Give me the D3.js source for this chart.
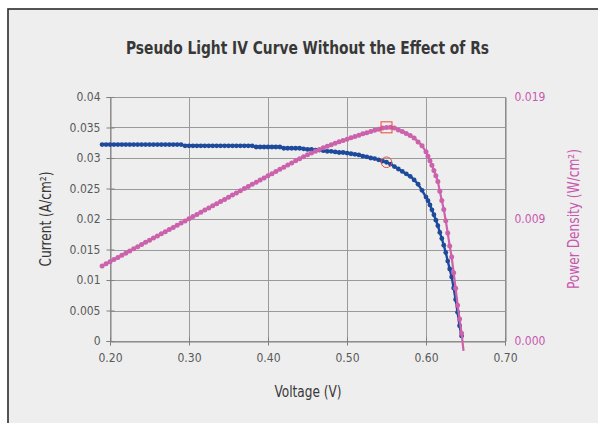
<!DOCTYPE html>
<html>
<head>
<meta charset="utf-8">
<script src="https://cdn.jsdelivr.net/npm/d3@7"></script>
<style>
  html, body { margin: 0; padding: 0; background: #ffffff; }
  svg { display: block; }
  text { font-family: "Liberation Sans Narrow", "DejaVu Sans Condensed", "Roboto", sans-serif; }
</style>
</head>
<body>
<svg id="chart" width="598" height="423"></svg>
<script>
const chartTitle = "Pseudo Light IV Curve Without the Effect of Rs";
const xTitle = "Voltage (V)";
const yTitle = "Current (A/cm\u00B2)";
const y2Title = "Power Density (W/cm\u00B2)";

const xTicks = [0.2, 0.3, 0.4, 0.5, 0.6, 0.7];
const xTickLabels = ["0.20", "0.30", "0.40", "0.50", "0.60", "0.70"];
const yTicks = [0, 0.005, 0.01, 0.015, 0.02, 0.025, 0.03, 0.035, 0.04];
const yTickLabels = ["0", "0.005", "0.01", "0.015", "0.02", "0.025", "0.03", "0.035", "0.04"];
const y2Ticks = [0, 0.009375, 0.01875];
const y2TickLabels = ["0.000", "0.009", "0.019"];

const voltage = [
  0.190, 0.195, 0.200, 0.205, 0.210, 0.215, 0.220, 0.225, 0.230, 0.235,
  0.240, 0.245, 0.250, 0.255, 0.260, 0.265, 0.270, 0.275, 0.280, 0.285,
  0.290, 0.295, 0.300, 0.305, 0.310, 0.315, 0.320, 0.325, 0.330, 0.335,
  0.340, 0.345, 0.350, 0.355, 0.360, 0.365, 0.370, 0.375, 0.380, 0.385,
  0.390, 0.395, 0.400, 0.405, 0.410, 0.415, 0.420, 0.425, 0.430, 0.435,
  0.440, 0.445, 0.450, 0.455, 0.460, 0.465, 0.470, 0.475, 0.480, 0.485,
  0.490, 0.495, 0.500, 0.505, 0.510, 0.515, 0.520, 0.525, 0.530, 0.535,
  0.540, 0.545, 0.550, 0.555, 0.560, 0.565, 0.570, 0.575, 0.580, 0.585,
  0.590, 0.595, 0.600, 0.6025, 0.605, 0.6075, 0.610, 0.6125, 0.615, 0.6175,
  0.620, 0.6225, 0.625, 0.6275, 0.630, 0.6325, 0.635, 0.6375, 0.640, 0.6425,
  0.645, 0.6475
];

const current = [
  0.0322, 0.0322, 0.0322, 0.0322, 0.0322, 0.0322, 0.0322, 0.0322, 0.0322, 0.0322,
  0.0322, 0.0322, 0.0322, 0.0322, 0.0322, 0.0322, 0.0322, 0.0322, 0.0322, 0.0322,
  0.0322, 0.0320, 0.0320, 0.0320, 0.0320, 0.0320, 0.0320, 0.0320, 0.0320, 0.0320,
  0.0320, 0.0320, 0.0320, 0.0320, 0.0320, 0.0320, 0.0320, 0.0320, 0.0320, 0.0318,
  0.0318, 0.0318, 0.0318, 0.0318, 0.0318, 0.0318, 0.0316, 0.0316, 0.0316, 0.0316,
  0.0316, 0.0315, 0.0314, 0.0314, 0.0313, 0.0313, 0.0312, 0.0311, 0.0311, 0.0310,
  0.0309, 0.0309, 0.0308, 0.0307, 0.0306, 0.0305, 0.0303, 0.0302, 0.0300, 0.0299,
  0.0297, 0.0295, 0.0293, 0.0290, 0.0286, 0.0282, 0.0278, 0.0274, 0.0270, 0.0264,
  0.0257, 0.0247, 0.0236, 0.0230, 0.0223, 0.0215, 0.0207, 0.0198, 0.0189, 0.0178,
  0.0168, 0.0157, 0.0145, 0.0131, 0.0118, 0.0105, 0.0087, 0.0068, 0.0047, 0.0025,
  0.0008
];

const power = [
  0.00576, 0.00593, 0.00609, 0.00626, 0.00642, 0.00659, 0.00675, 0.00692, 0.00708, 0.00725,
  0.00741, 0.00758, 0.00774, 0.00791, 0.00807, 0.00824, 0.00840, 0.00857, 0.00873, 0.00890,
  0.00907, 0.00923, 0.00940, 0.00956, 0.00973, 0.00989, 0.01006, 0.01022, 0.01039, 0.01055,
  0.01072, 0.01088, 0.01105, 0.01121, 0.01138, 0.01154, 0.01171, 0.01187, 0.01204, 0.01220,
  0.01237, 0.01253, 0.01270, 0.01286, 0.01303, 0.01319, 0.01336, 0.01352, 0.01368, 0.01385,
  0.01401, 0.01416, 0.01431, 0.01445, 0.01459, 0.01472, 0.01485, 0.01497, 0.01509, 0.01520,
  0.01531, 0.01541, 0.01550, 0.01561, 0.01571, 0.01582, 0.01592, 0.01601, 0.01610, 0.01619,
  0.01628, 0.01636, 0.01641, 0.01642, 0.01636, 0.01622, 0.01610, 0.01595, 0.01580, 0.01560,
  0.01530, 0.01500, 0.01455, 0.01420, 0.01385, 0.01350, 0.01310, 0.01270, 0.01225, 0.01150,
  0.01080, 0.01010, 0.00925, 0.00830, 0.00730, 0.00645, 0.00525, 0.00405, 0.00275, 0.00170,
  0.00060, -0.00075
];

const mppVoltage = [0.55];
const mppCurrent = [0.0293];
const mppPower = [0.01642];

const blue = "#1d4a9b";
const pink = "#cb62ab";
const pinkText = "#c957ae";
const grey = "#595959";
const dark = "#383838";

const svg = d3.select("#chart");

svg.append("rect")
  .attr("x", 8).attr("y", 9).attr("width", 620).attr("height", 440)
  .attr("fill", "#eeeeee").attr("stroke", "#2b2b2b").attr("stroke-width", 1.6);

const x = d3.scaleLinear().domain([0.2, 0.7]).range([110, 505]);
const y = d3.scaleLinear().domain([0, 0.04]).range([341, 97]);
const y2 = d3.scaleLinear().domain([0, 0.01875]).range([341, 97]);

// gridlines
const grid = svg.append("g").attr("stroke", "#9a9a9a").attr("stroke-width", 1);
grid.selectAll(".hg").data(yTicks).join("line")
  .attr("x1", x(0.2)).attr("x2", x(0.7))
  .attr("y1", d => Math.round(y(d)) + 0.5).attr("y2", d => Math.round(y(d)) + 0.5);
grid.selectAll(".vg").data(xTicks).join("line")
  .attr("y1", y(0)).attr("y2", y(0.04))
  .attr("x1", d => Math.round(x(d)) + 0.5).attr("x2", d => Math.round(x(d)) + 0.5);

// axes
const axisColor = "#808080";
const yAxis = svg.append("g").attr("transform", `translate(${Math.round(x(0.2)) + 0.5},0)`)
  .call(d3.axisLeft(y).tickValues(yTicks).tickFormat((d, i) => yTickLabels[i]).tickSizeOuter(0).tickSize(4).tickPadding(6));
yAxis.selectAll("line").attr("x2", -4).attr("x1", 4).attr("stroke", axisColor);
yAxis.select(".domain").attr("stroke", axisColor);
yAxis.selectAll("text").attr("fill", grey).attr("font-size", 12).attr("x", -10);

const xAxis = svg.append("g").attr("transform", `translate(0,${Math.round(y(0)) + 0.5})`)
  .call(d3.axisBottom(x).tickValues(xTicks).tickFormat((d, i) => xTickLabels[i]).tickSizeOuter(0).tickSize(4).tickPadding(8));
xAxis.selectAll("line").attr("y1", -4).attr("y2", 4).attr("stroke", axisColor);
xAxis.select(".domain").attr("stroke", axisColor);
xAxis.selectAll("text").attr("fill", grey).attr("font-size", 12);

const y2Axis = svg.append("g").attr("transform", `translate(${Math.round(x(0.7)) + 0.5},0)`)
  .call(d3.axisRight(y2).tickValues(y2Ticks).tickFormat((d, i) => y2TickLabels[i]).tickSizeOuter(0).tickSize(0).tickPadding(9));
y2Axis.select(".domain").attr("stroke", axisColor);
y2Axis.selectAll("text").attr("fill", pinkText).attr("font-size", 12);

// series lines
const idx = d3.range(voltage.length);
const currentLine = d3.line().x(i => x(voltage[i])).y(i => y(current[i]));
const powerLine = d3.line().x(i => x(voltage[i])).y(i => y2(power[i]));

const currentIdx = idx.filter(i => i < current.length);
const powerIdx = idx.filter(i => i < power.length);

svg.append("path").attr("d", currentLine(currentIdx))
  .attr("fill", "none").attr("stroke", blue).attr("stroke-width", 2.4);
svg.append("g").selectAll("circle").data(currentIdx).join("circle")
  .attr("cx", i => x(voltage[i])).attr("cy", i => y(current[i])).attr("r", 2.4)
  .attr("fill", blue);

svg.append("path").attr("d", powerLine(powerIdx))
  .attr("fill", "none").attr("stroke", pink).attr("stroke-width", 2.2);
svg.append("g").selectAll("circle").data(powerIdx.slice(0, -1)).join("circle")
  .attr("cx", i => x(voltage[i])).attr("cy", i => y2(power[i])).attr("r", 2.5)
  .attr("fill", pink);

// maximum power point markers
svg.append("g").selectAll("circle").data(mppVoltage).join("circle")
  .attr("cx", (d) => x(d)).attr("cy", (d, i) => y(mppCurrent[i])).attr("r", 5.3)
  .attr("fill", "none").attr("stroke", "#e8483c").attr("stroke-width", 1);
svg.append("g").selectAll("rect").data(mppVoltage).join("rect")
  .attr("x", (d) => x(d) - 5.5).attr("y", (d, i) => y2(mppPower[i]) - 5.5)
  .attr("width", 11).attr("height", 11)
  .attr("fill", "none").attr("stroke", "#e8483c").attr("stroke-width", 1);

// titles
svg.append("text").text(chartTitle)
  .attr("x", 307.5).attr("y", 54).attr("text-anchor", "middle")
  .attr("font-size", 17.5).attr("font-weight", "bold").attr("fill", dark)
  .attr("textLength", 363).attr("lengthAdjust", "spacingAndGlyphs");

svg.append("text").text(xTitle)
  .attr("x", 308).attr("y", 397).attr("text-anchor", "middle")
  .attr("font-size", 16).attr("fill", dark)
  .attr("textLength", 67).attr("lengthAdjust", "spacingAndGlyphs");

svg.append("text").text(yTitle)
  .attr("transform", "translate(51,219) rotate(-90)").attr("text-anchor", "middle")
  .attr("font-size", 16).attr("fill", dark)
  .attr("textLength", 95).attr("lengthAdjust", "spacingAndGlyphs");

svg.append("text").text(y2Title)
  .attr("transform", "translate(579,219) rotate(-90)").attr("text-anchor", "middle")
  .attr("font-size", 16).attr("fill", pinkText)
  .attr("textLength", 140).attr("lengthAdjust", "spacingAndGlyphs");
</script>
</body>
</html>
